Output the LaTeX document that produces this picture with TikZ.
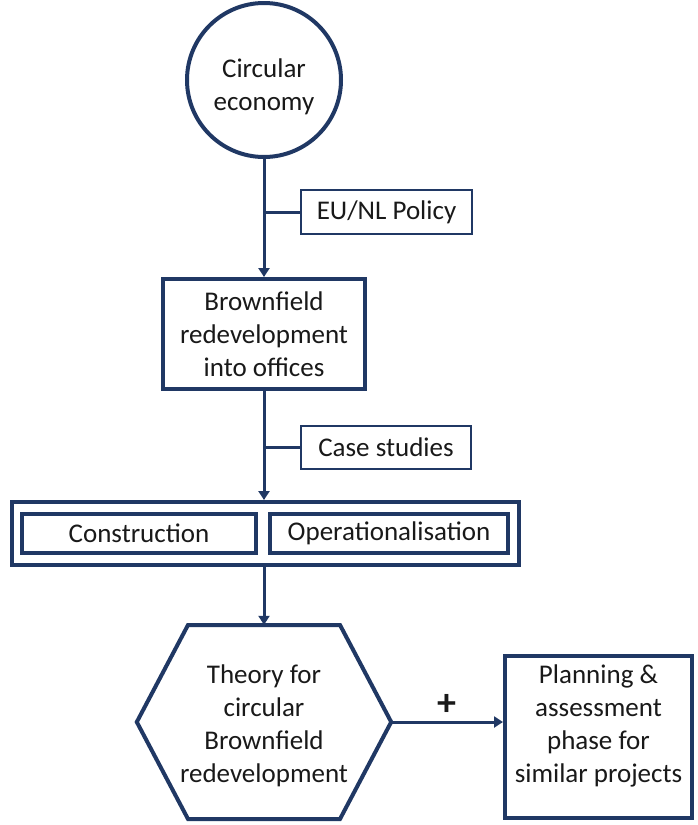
\documentclass[tikz,border=0pt]{standalone}
\usepackage{fontspec}
\setmainfont{Carlito}
\usetikzlibrary{arrows.meta}
\definecolor{navy}{RGB}{32,56,100}
\begin{document}
\begin{tikzpicture}[x=1pt,y=-1pt,
  every node/.style={font=\fontsize{27}{33}\selectfont, align=center, inner sep=0pt, text=black!90},
  thickbox/.style={draw=navy, line width=4pt, rectangle, fill=white},
  thinbox/.style={draw=navy, line width=2pt, rectangle, fill=white},
  conn/.style={draw=navy, line width=3pt},
  arr/.style={conn, -{Triangle[length=9pt,width=11pt]}}]
\useasboundingbox (0,0) rectangle (698,825);

\node[draw=navy, line width=4pt, circle, minimum size=154pt, fill=white] (circ) at (264,80) {};
\node (circt) at (264,87) {Circular\\economy};

\node[thickbox, minimum width=202pt, minimum height=110pt] (brown) at (264,334) {Brownfield\\redevelopment\\into offices};
\node[thinbox, minimum width=171pt, minimum height=44pt] (eu) at (386.5,212) {EU/NL Policy};
\node[thinbox, minimum width=170pt, minimum height=43pt] (case) at (386,447.5) {Case studies};

\node[thickbox, minimum width=507pt, minimum height=63pt] (outer) at (265.5,533.5) {};
\node[thickbox, minimum width=234pt, minimum height=39pt] (cons) at (139,533.5) {Construction};
\node[thickbox, minimum width=238pt, minimum height=39pt] (oper) at (389,533.5) {Operationalisation};

\node[minimum width=254pt, minimum height=194pt] (theory) at (264,722) {};
\draw[navy, line width=4pt, line join=miter] (theory.west) -- (188,625) -- (340,625) -- (theory.east) -- (340,819) -- (188,819) -- cycle;
\node (theoryt) at (264,726) {Theory for\\circular\\Brownfield\\redevelopment};

\node[thickbox, minimum width=187pt, minimum height=162pt] (plan) at (598.5,737) {};
\node (plant) at (598.5,726) {Planning \&\\assessment\\phase for\\similar projects};

\draw[arr] (circ.south) -- (circ.south |- brown.north);
\draw[conn] (circ.south |- eu.west) -- (eu.west);
\draw[arr] (brown.south) -- (brown.south |- outer.north);
\draw[conn] (brown.south |- case.west) -- (case.west);
\draw[arr] (brown.south |- outer.south) -- (theory.north);
\draw[arr] (theory.east) -- (theory.east -| plan.west) node[midway, above=5pt, font=\fontsize{38}{38}\selectfont\bfseries] (plus) {+};
\end{tikzpicture}
\end{document}
